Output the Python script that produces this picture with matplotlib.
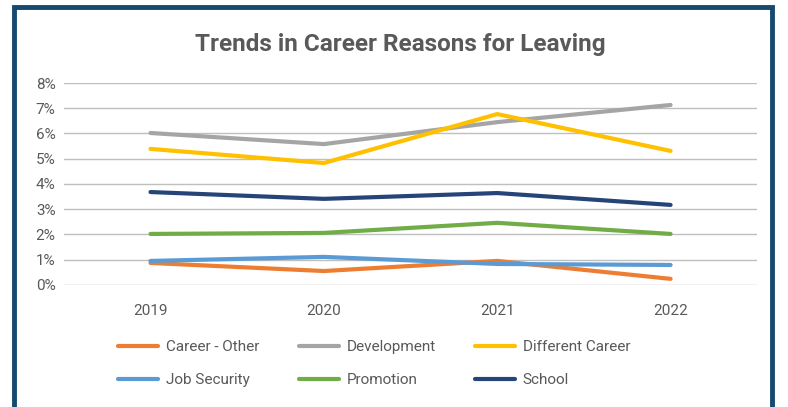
import matplotlib.pyplot as plt
from matplotlib.patches import Rectangle

plt.rcParams['font.family'] = ['Roboto', 'DejaVu Sans']

years = ['2019', '2020', '2021', '2022']
career_other = [0.87, 0.55, 0.95, 0.24]
development = [6.02, 5.58, 6.45, 7.13]
different_career = [5.39, 4.83, 6.77, 5.31]
job_security = [0.95, 1.11, 0.83, 0.79]
promotion = [2.02, 2.06, 2.46, 2.02]
school = [3.68, 3.41, 3.64, 3.17]

series = [
    ('Career - Other', career_other, '#ED7D31'),
    ('Development', development, '#A5A5A5'),
    ('Different Career', different_career, '#FFC000'),
    ('Job Security', job_security, '#5B9BD5'),
    ('Promotion', promotion, '#70AD47'),
    ('School', school, '#264478'),
]

fig = plt.figure(figsize=(7.88, 4.07), dpi=100)
ax = fig.add_axes([0.081, 0.300, 0.880, 0.496])

x = range(len(years))
lines = []
for name, vals, col in series:
    ln, = ax.plot(x, vals, color=col, lw=3, label=name, solid_capstyle='round')
    lines.append(ln)

ax.set_xlim(-0.5, 3.5)
ax.set_ylim(0, 8)
ax.set_yticks(range(0, 9))
ax.set_yticklabels([f'{i}%' for i in range(0, 9)])
ax.set_xticks(list(x))
ax.set_xticklabels(years)
ax.grid(axis='y', color='#BFBFBF', lw=1)
ax.set_axisbelow(True)
for s in ax.spines.values():
    s.set_visible(False)
ax.tick_params(length=0, labelsize=11, colors='#595959')
ax.tick_params(axis='x', pad=14)
ax.tick_params(axis='y', pad=6)

fig.text(0.508, 0.89, 'Trends in Career Reasons for Leaving', ha='center', va='center',
         fontsize=17.5, fontweight='bold', color='#595959')

# legend fills columns first, so reorder to read row by row
order = [0, 3, 1, 4, 2, 5]
fig.legend([lines[i] for i in order], [series[i][0] for i in order],
           loc='center', bbox_to_anchor=(0.475, 0.107), ncol=3, frameon=False,
           fontsize=11, labelcolor='#595959', handlelength=2.6, handletextpad=0.5,
           columnspacing=2.6, labelspacing=1.25)

fig.patches.append(Rectangle((14/788, -0.05), (772-14)/788, 1 - 7/407 + 0.05,
                             transform=fig.transFigure, fill=False,
                             edgecolor='#15496E', lw=3.5))

plt.savefig('out.png', dpi=100)
